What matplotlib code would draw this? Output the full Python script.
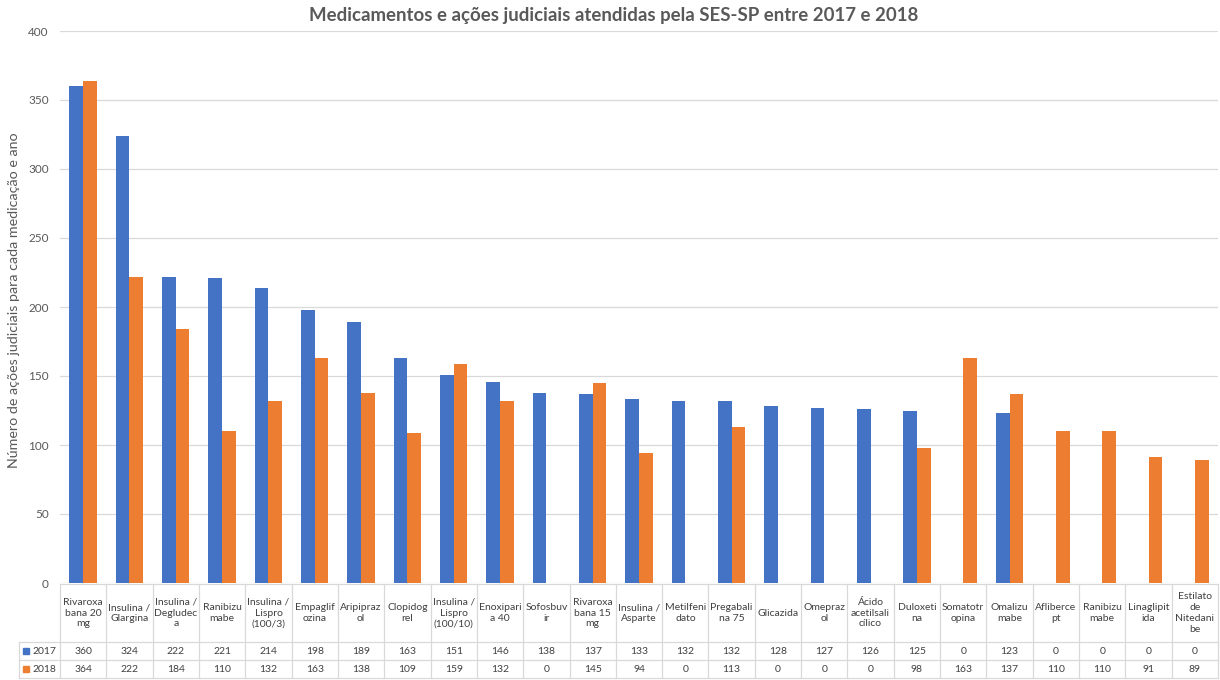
import numpy as np
import matplotlib.pyplot as plt
from matplotlib.transforms import blended_transform_factory

categorias = ["Rivaroxa\nbana 20\nmg", "Insulina /\nGlargina", "Insulina /\nDegludec\na",
              "Ranibizu\nmabe", "Insulina /\nLispro\n(100/3)", "Empaglif\nozina",
              "Aripipraz\nol", "Clopidog\nrel", "Insulina /\nLispro\n(100/10)",
              "Enoxipari\na 40", "Sofosbuv\nir", "Rivaroxa\nbana 15\nmg",
              "Insulina /\nAsparte", "Metilfeni\ndato", "Pregabali\nna 75", "Glicazida",
              "Omepraz\nol", "Ácido\nacetilsali\ncílico", "Duloxeti\nna", "Somatotr\nopina",
              "Omalizu\nmabe", "Afliberce\npt", "Ranibizu\nmabe", "Linaglipit\nida",
              "Estilato\nde\nNitedani\nbe"]
v2017 = [360, 324, 222, 221, 214, 198, 189, 163, 151, 146, 138, 137, 133, 132, 132,
         128, 127, 126, 125, 0, 123, 0, 0, 0, 0]
v2018 = [364, 222, 184, 110, 132, 163, 138, 109, 159, 132, 0, 145, 94, 0, 113,
         0, 0, 0, 98, 163, 137, 110, 110, 91, 89]
anos = ["2017", "2018"]
cores = ["#4472C4", "#ED7D31"]

plt.rcParams['font.family'] = ['Lato', 'DejaVu Sans']
W, H = 1220, 680
fig = plt.figure(figsize=(12.2, 6.8), dpi=100)
ax = fig.add_axes([60 / W, 1 - 583 / H, 1158 / W, 552 / H])

x = np.arange(len(categorias))
w = 0.295
ax.bar(x - w / 2, v2017, w, color=cores[0], zorder=3)
ax.bar(x + w / 2, v2018, w, color=cores[1], zorder=3)

ax.set_xlim(-0.5, len(categorias) - 0.5)
ax.set_ylim(0, 400)
ax.set_yticks(range(0, 401, 50))
ax.tick_params(axis='y', length=0, labelsize=8.5, labelcolor="#595959", pad=8)
ax.set_xticks([])
ax.grid(axis='y', color="#D9D9D9", lw=0.9, zorder=0)
for s in ax.spines.values():
    s.set_visible(False)

fig.text(614 / W, 1 - 16 / H, "Medicamentos e ações judiciais atendidas pela SES-SP entre 2017 e 2018",
         ha='center', va='center', fontsize=13.4, fontweight='bold', color="#595959")
fig.text(14 / W, 1 - 300 / H, "Número de ações judiciais para cada medicação e ano",
         rotation=90, ha='center', va='center', fontsize=10.3, color="#595959")

# data table under the axis
tr = blended_transform_factory(ax.transData, fig.transFigure)
fy = lambda py: 1 - py / H
lc = "#D9D9D9"
ax.plot([-0.5, len(categorias) - 0.5], [fy(584)] * 2, transform=tr, color=lc, lw=0.9, clip_on=False)
for py in [642, 660, 678]:
    fig.add_artist(plt.Line2D([19 / W, 1218 / W], [fy(py)] * 2, color=lc, lw=0.9))
for b in np.arange(len(categorias) + 1) - 0.5:
    ax.plot([b, b], [fy(584), fy(678)], transform=tr, color=lc, lw=0.9, clip_on=False)
fig.add_artist(plt.Line2D([19 / W, 19 / W], [fy(642), fy(678)], color=lc, lw=0.9))

for i, nome in enumerate(categorias):
    ax.text(i, fy(613), nome, transform=tr, ha='center', va='center', fontsize=7.5,
            color="#404040", linespacing=1.25)
    ax.text(i, fy(651), str(v2017[i]), transform=tr, ha='center', va='center', fontsize=7.5, color="#404040")
    ax.text(i, fy(669), str(v2018[i]), transform=tr, ha='center', va='center', fontsize=7.5, color="#404040")

for j, (ano, cor) in enumerate(zip(anos, cores)):
    yy = fy(651 + 18 * j)
    fig.add_artist(plt.Rectangle((23 / W, yy - 3 / H), 6 / W, 6 / H, color=cor))
    fig.text(32 / W, yy, ano, ha='left', va='center', fontsize=7.5, color="#404040")

fig.savefig("out.png", dpi=100)
